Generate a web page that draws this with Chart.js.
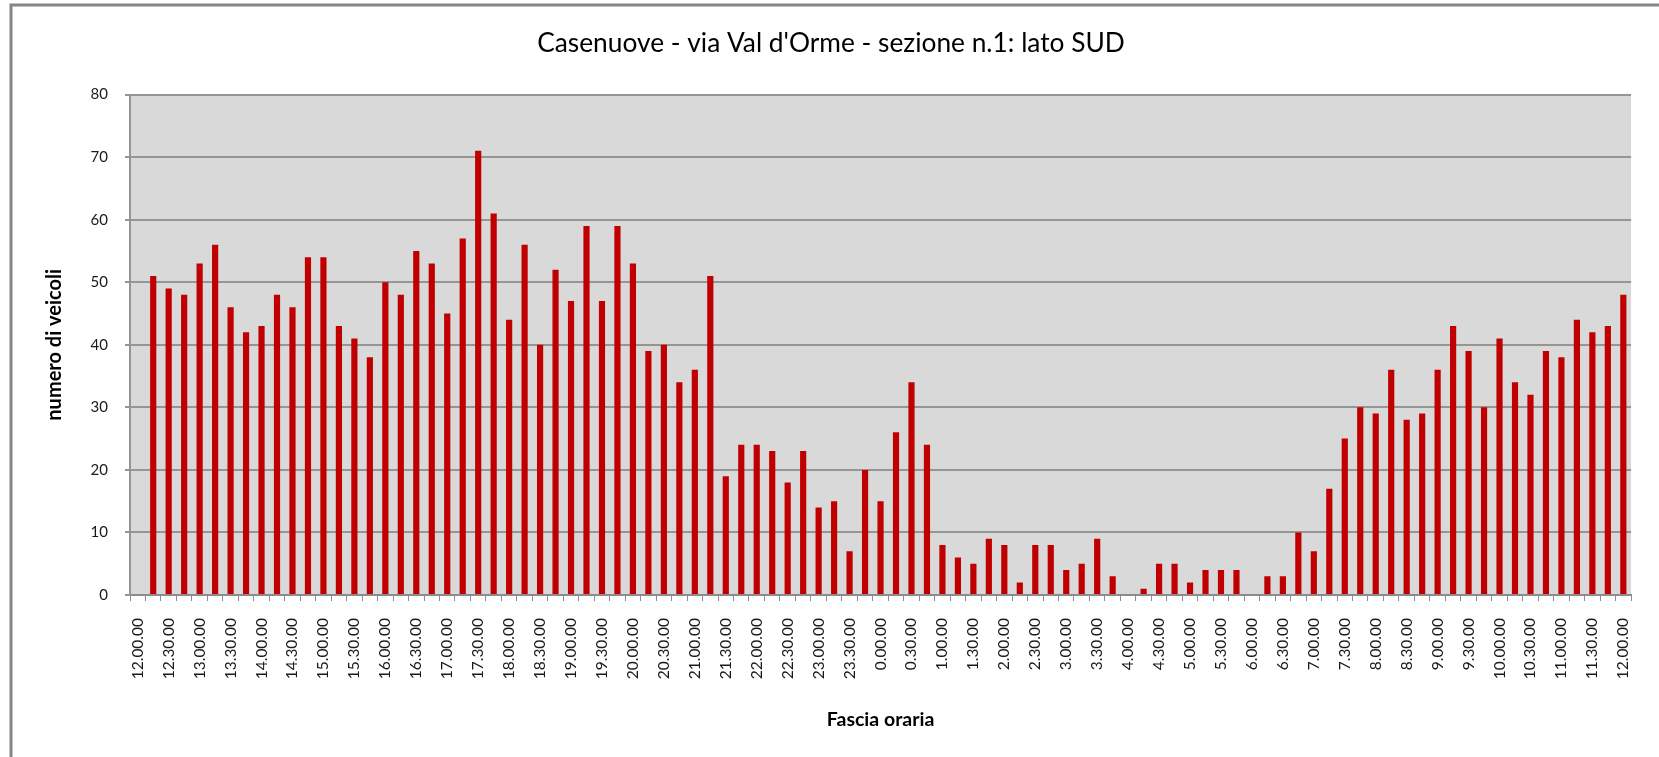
<!DOCTYPE html>
<html>
<head>
<meta charset="utf-8">
<script src="https://cdn.jsdelivr.net/npm/chart.js@4.4.1/dist/chart.umd.min.js"></script>
<style>
  html, body { margin: 0; padding: 0; background: #fff; }
  canvas { display: block; }
</style>
</head>
<body>
<canvas id="traffico" width="1659" height="757"></canvas>
<script>
// fasce orarie di 15 minuti (l'asse mostra una etichetta ogni due)
const categories = [
  '12.00.00', '12.15.00', '12.30.00', '12.45.00', '13.00.00', '13.15.00', '13.30.00', '13.45.00',
  '14.00.00', '14.15.00', '14.30.00', '14.45.00', '15.00.00', '15.15.00', '15.30.00', '15.45.00',
  '16.00.00', '16.15.00', '16.30.00', '16.45.00', '17.00.00', '17.15.00', '17.30.00', '17.45.00',
  '18.00.00', '18.15.00', '18.30.00', '18.45.00', '19.00.00', '19.15.00', '19.30.00', '19.45.00',
  '20.00.00', '20.15.00', '20.30.00', '20.45.00', '21.00.00', '21.15.00', '21.30.00', '21.45.00',
  '22.00.00', '22.15.00', '22.30.00', '22.45.00', '23.00.00', '23.15.00', '23.30.00', '23.45.00',
  '0.00.00', '0.15.00', '0.30.00', '0.45.00', '1.00.00', '1.15.00', '1.30.00', '1.45.00',
  '2.00.00', '2.15.00', '2.30.00', '2.45.00', '3.00.00', '3.15.00', '3.30.00', '3.45.00',
  '4.00.00', '4.15.00', '4.30.00', '4.45.00', '5.00.00', '5.15.00', '5.30.00', '5.45.00',
  '6.00.00', '6.15.00', '6.30.00', '6.45.00', '7.00.00', '7.15.00', '7.30.00', '7.45.00',
  '8.00.00', '8.15.00', '8.30.00', '8.45.00', '9.00.00', '9.15.00', '9.30.00', '9.45.00',
  '10.00.00', '10.15.00', '10.30.00', '10.45.00', '11.00.00', '11.15.00', '11.30.00', '11.45.00',
  '12.00.00'
];

// numero di veicoli per fascia
const veicoli = [
  0, 51, 49, 48, 53, 56, 46, 42, 43, 48,
  46, 54, 54, 43, 41, 38, 50, 48, 55, 53,
  45, 57, 71, 61, 44, 56, 40, 52, 47, 59,
  47, 59, 53, 39, 40, 34, 36, 51, 19, 24,
  24, 23, 18, 23, 14, 15, 7, 20, 15, 26,
  34, 24, 8, 6, 5, 9, 8, 2, 8, 8,
  4, 5, 9, 3, 0, 1, 5, 5, 2, 4,
  4, 4, 0, 3, 3, 10, 7, 17, 25, 30,
  29, 36, 28, 29, 36, 43, 39, 30, 41, 34,
  32, 39, 38, 44, 42, 43, 48
];

const titolo = "Casenuove - via Val d'Orme - sezione n.1: lato SUD";
const titoloY = 'numero di veicoli';
const titoloX = 'Fascia oraria';

// sfondo grigio dell'area del grafico e cornice esterna
const sfondo = {
  id: 'sfondo',
  beforeDraw(chart) {
    const { ctx, chartArea: a } = chart;
    ctx.save();
    ctx.fillStyle = '#ffffff';
    ctx.fillRect(0, 0, chart.width, chart.height);
    ctx.fillStyle = '#d9d9d9';
    ctx.fillRect(a.left, a.top, a.right - a.left, a.bottom - a.top);
    ctx.restore();
  },
  afterDraw(chart) {
    const ctx = chart.ctx;
    ctx.save();
    ctx.strokeStyle = '#868686';
    ctx.lineWidth = 3;
    ctx.strokeRect(11, 5, chart.width + 20, chart.height + 20);
    ctx.restore();
  }
};

const ctx = document.getElementById('traffico').getContext('2d');
new Chart(ctx, {
  type: 'bar',
  data: {
    labels: categories,
    datasets: [{
      label: 'veicoli',
      data: veicoli,
      backgroundColor: '#c00000',
      borderWidth: 0,
      categoryPercentage: 1,
      barPercentage: 0.4
    }]
  },
  options: {
    responsive: false,
    animation: false,
    layout: { padding: { left: 17, right: 14, top: 0, bottom: 0 } },
    scales: {
      x: {
        offset: true,
        grid: {
          display: true,
          offset: true,
          drawOnChartArea: false,
          color: '#8c8c8c',
          tickLength: 6
        },
        border: { display: true, color: '#8c8c8c', width: 2 },
        ticks: {
          autoSkip: false,
          minRotation: 90,
          maxRotation: 90,
          padding: 17,
          color: '#1a1a1a',
          font: { family: 'Lato', size: 15.5 },
          callback: function(value, index) {
            return index % 2 === 0 ? this.getLabelForValue(value) : '';
          }
        },
        title: {
          display: true,
          text: titoloX,
          color: '#000',
          font: { family: 'Lato', size: 19.5, weight: 'bold' },
          padding: { top: 0, bottom: 26 }
        },
        afterFit: function(scale) { scale.height = 162; }
      },
      y: {
        min: 0,
        max: 80,
        ticks: {
          stepSize: 10,
          padding: 17,
          color: '#1a1a1a',
          font: { family: 'Lato', size: 15 }
        },
        grid: {
          color: '#959595',
          lineWidth: 2,
          tickLength: 5
        },
        border: { display: true, color: '#959595', width: 2 },
        title: {
          display: true,
          text: titoloY,
          color: '#000',
          font: { family: 'Lato', size: 20, weight: 'bold' },
          padding: { top: 26, bottom: 0 }
        },
        afterFit: function(scale) { scale.width = 113; }
      }
    },
    plugins: {
      legend: { display: false },
      tooltip: { enabled: false },
      title: {
        display: true,
        text: titolo,
        color: '#000',
        font: { family: 'Lato', size: 26.3, weight: 'normal' },
        padding: { top: 28, bottom: 35 }
      }
    }
  },
  plugins: [sfondo]
});
</script>
</body>
</html>
